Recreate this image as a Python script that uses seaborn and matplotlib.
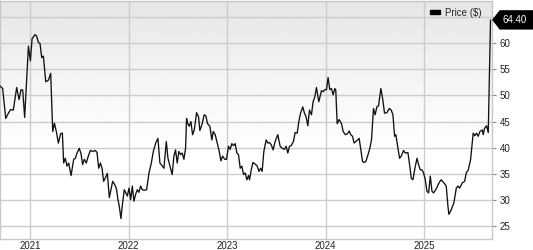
import numpy as np
import pandas as pd
import matplotlib
matplotlib.use("Agg")
import matplotlib.pyplot as plt
import matplotlib.dates as mdates
from matplotlib.patches import Patch, Polygon
import seaborn as sns

# ---- data (decimal year, price) ----
years = [
    2020.692, 2020.719, 2020.750, 2020.777, 2020.800, 2020.827, 2020.861, 2020.885, 2020.905, 2020.922,
    2020.942, 2020.980, 2021.000, 2021.017, 2021.047, 2021.064, 2021.081, 2021.098, 2021.115, 2021.132,
    2021.156, 2021.183, 2021.206, 2021.227, 2021.244, 2021.267, 2021.284, 2021.308, 2021.325, 2021.338,
    2021.355, 2021.372, 2021.389, 2021.413, 2021.440, 2021.457, 2021.474, 2021.497, 2021.514, 2021.531,
    2021.548, 2021.568, 2021.585, 2021.609, 2021.633, 2021.660, 2021.677, 2021.694, 2021.711, 2021.728,
    2021.744, 2021.761, 2021.782, 2021.802, 2021.819, 2021.836, 2021.856, 2021.873, 2021.890, 2021.903,
    2021.920, 2021.937, 2021.954, 2021.985, 2022.002, 2022.019, 2022.036, 2022.052, 2022.069, 2022.086,
    2022.103, 2022.120, 2022.137, 2022.161, 2022.181, 2022.205, 2022.229, 2022.249, 2022.273, 2022.296,
    2022.316, 2022.340, 2022.357, 2022.381, 2022.398, 2022.418, 2022.441, 2022.458, 2022.475, 2022.492,
    2022.509, 2022.526, 2022.543, 2022.560, 2022.577, 2022.587, 2022.597, 2022.614, 2022.631, 2022.648,
    2022.665, 2022.689, 2022.709, 2022.722, 2022.743, 2022.766, 2022.783, 2022.800, 2022.824, 2022.844,
    2022.858, 2022.878, 2022.902, 2022.919, 2022.936, 2022.953, 2022.976, 2022.993, 2023.013, 2023.030,
    2023.047, 2023.064, 2023.081, 2023.098, 2023.115, 2023.132, 2023.149, 2023.166, 2023.183, 2023.200,
    2023.217, 2023.227, 2023.244, 2023.261, 2023.284, 2023.305, 2023.322, 2023.339, 2023.355, 2023.372,
    2023.396, 2023.413, 2023.430, 2023.447, 2023.467, 2023.487, 2023.514, 2023.538, 2023.558, 2023.582,
    2023.599, 2023.616, 2023.633, 2023.650, 2023.673, 2023.690, 2023.711, 2023.728, 2023.745, 2023.768,
    2023.785, 2023.802, 2023.819, 2023.836, 2023.856, 2023.873, 2023.890, 2023.907, 2023.931, 2023.958,
    2023.975, 2023.992, 2024.009, 2024.025, 2024.042, 2024.059, 2024.076, 2024.093, 2024.103, 2024.117,
    2024.137, 2024.161, 2024.178, 2024.201, 2024.222, 2024.239, 2024.255, 2024.272, 2024.289, 2024.306,
    2024.323, 2024.340, 2024.357, 2024.374, 2024.391, 2024.408, 2024.425, 2024.448, 2024.465, 2024.485,
    2024.502, 2024.519, 2024.536, 2024.560, 2024.580, 2024.597, 2024.621, 2024.645, 2024.665, 2024.682,
    2024.699, 2024.712, 2024.733, 2024.750, 2024.766, 2024.790, 2024.807, 2024.834, 2024.851, 2024.868,
    2024.885, 2024.902, 2024.926, 2024.942, 2024.959, 2024.976, 2024.993, 2025.010, 2025.027, 2025.044,
    2025.061, 2025.078, 2025.095, 2025.125, 2025.149, 2025.172, 2025.200, 2025.223, 2025.240, 2025.250,
    2025.274, 2025.301, 2025.325, 2025.342, 2025.359, 2025.386, 2025.410, 2025.426, 2025.447, 2025.470,
    2025.497, 2025.514, 2025.531, 2025.548, 2025.565, 2025.589, 2025.599, 2025.612, 2025.633, 2025.650,
    2025.673,
]
prices = [
    51.8, 51.3, 45.6, 46.6, 47.3, 47.2, 51.5, 49.2, 51.1, 51.0,
    45.8, 59.4, 56.6, 60.8, 61.6, 61.3, 60.1, 59.9, 57.2, 57.5,
    52.6, 52.9, 54.2, 43.1, 44.7, 42.8, 40.9, 42.7, 42.8, 37.1,
    38.0, 36.5, 37.1, 34.7, 37.8, 38.0, 39.0, 39.9, 38.9, 36.8,
    37.8, 37.1, 38.2, 39.5, 39.3, 39.5, 39.1, 36.1, 37.1, 36.1,
    33.6, 34.2, 35.1, 30.5, 32.0, 33.6, 33.0, 32.3, 30.1, 28.9,
    26.5, 29.5, 32.0, 30.8, 32.3, 30.1, 32.7, 29.8, 31.1, 32.0,
    31.5, 32.7, 32.0, 31.9, 32.0, 35.2, 37.1, 39.3, 40.9, 41.8,
    37.1, 36.5, 36.1, 41.2, 38.0, 36.5, 34.9, 38.4, 39.6, 37.1,
    39.3, 38.7, 39.0, 37.8, 39.9, 45.6, 44.7, 44.1, 45.0, 42.5,
    43.4, 46.7, 45.9, 43.3, 44.4, 46.3, 46.1, 44.6, 44.1, 41.5,
    43.1, 42.5, 40.6, 39.3, 37.5, 38.4, 37.8, 37.8, 40.3, 39.7,
    40.8, 40.4, 40.8, 39.0, 38.7, 36.1, 36.5, 34.9, 35.2, 33.9,
    34.7, 33.9, 35.8, 37.2, 36.9, 36.5, 35.5, 36.1, 35.5, 39.3,
    41.5, 40.9, 41.0, 40.6, 39.6, 41.2, 42.5, 40.3, 39.9, 39.7,
    40.3, 39.0, 40.3, 40.4, 41.2, 42.9, 42.8, 45.0, 46.6, 47.8,
    46.6, 45.9, 44.2, 47.2, 46.3, 48.8, 49.7, 51.5, 48.8, 50.9,
    50.7, 51.1, 51.1, 53.4, 51.1, 51.3, 50.1, 51.3, 51.0, 44.6,
    45.4, 44.6, 43.1, 42.5, 42.7, 43.2, 42.5, 42.2, 40.9, 41.2,
    41.5, 41.8, 39.6, 37.4, 37.2, 37.4, 38.4, 39.9, 41.5, 47.5,
    46.3, 47.8, 48.0, 51.3, 49.1, 46.6, 46.7, 47.5, 47.2, 46.3,
    42.2, 42.5, 39.9, 38.0, 38.4, 39.5, 39.0, 39.1, 36.8, 34.2,
    33.9, 35.8, 38.0, 36.8, 35.8, 35.8, 35.2, 33.9, 31.7, 31.4,
    34.6, 31.7, 31.4, 32.3, 33.3, 33.9, 33.3, 32.7, 28.9, 27.3,
    28.2, 29.5, 32.3, 32.7, 32.3, 33.3, 33.6, 35.2, 35.8, 37.7,
    42.8, 42.3, 42.8, 42.2, 43.1, 43.4, 42.5, 43.7, 44.2, 42.9,
    64.4,
]
series_label = "Price ($)"
last_label = "64.40"
year_ticks = [2021, 2022, 2023, 2024, 2025]
y_ticks = [25, 30, 35, 40, 45, 50, 55, 60, 65]
y_tick_labels = ["25", "30", "35", "40", "45", "50", "55", "60", ""]


def to_date(y):
    yr = int(np.floor(y))
    start = pd.Timestamp(year=yr, month=1, day=1)
    end = pd.Timestamp(year=yr + 1, month=1, day=1)
    return start + (end - start) * (y - yr)


dates = [to_date(y) for y in years]
df = pd.DataFrame({"date": dates, "price": prices})

sns.set_style("white")
plt.rcParams["font.family"] = ["Liberation Sans", "DejaVu Sans"]
plt.rcParams["font.size"] = 7

W, H = 533, 250
fig = plt.figure(figsize=(W / 100, H / 100), dpi=100)
ax = fig.add_axes([0 / W, 11 / H, 492 / W, 238.5 / H])

# background gradient (grey at top fading smoothly to white)
n = 300
t = np.linspace(0, 1, n)  # 0 = bottom, 1 = top
u = np.clip((t - 0.35) / 0.65, 0, 1)
shade = 1 - 0.10 * u ** 1.2
grad = np.tile(shade[:, None], (1, 2))
ax.imshow(grad, extent=(0, 1, 0, 1), transform=ax.transAxes, aspect="auto",
          cmap="gray", vmin=0, vmax=1, origin="lower", zorder=0, interpolation="bilinear")

sns.lineplot(data=df, x="date", y="price", ax=ax, color="#111111", lw=0.95,
             legend=False, zorder=3)

ax.set_xlim(to_date(2020.692), to_date(2025.688))
ax.set_ylim(22.6, 68.1)

ax.set_xticks([pd.Timestamp(year=y, month=1, day=1) for y in year_ticks])
ax.set_xticklabels([str(y) for y in year_ticks])
ax.set_yticks(y_ticks)
ax.set_yticklabels(y_tick_labels)
ax.yaxis.tick_right()
ax.set_xlabel("")
ax.set_ylabel("")

ax.grid(True, color="#cccccc", lw=1.0)
ax.set_axisbelow(True)
for s in ax.spines.values():
    s.set_color("#c8c8c8")
    s.set_linewidth(1.0)

ax.tick_params(axis="y", which="both", right=True, left=False, length=3, width=0.8,
               color="#888888", pad=2.5, labelsize=7, labelcolor="#222222")
ax.tick_params(axis="x", length=0, pad=1.2, labelsize=7, labelcolor="#222222")

leg = ax.legend(handles=[Patch(facecolor="black", edgecolor="black", label=series_label)],
                loc="center right", bbox_to_anchor=(482 / 492, 1 - 12 / 238.5),
                frameon=False, borderpad=0, borderaxespad=0, handlelength=1.0,
                handleheight=0.38, handletextpad=0.6, fontsize=7)

# last-price tag
fig.canvas.draw()
yp = ax.transData.transform((mdates.date2num(dates[-1]), prices[-1]))[1]
hh = 9
tag = Polygon([(493 / W, yp / H), (500 / W, (yp + hh) / H), (533 / W, (yp + hh) / H),
               (533 / W, (yp - hh) / H), (500 / W, (yp - hh) / H)],
              closed=True, transform=fig.transFigure, facecolor="black",
              edgecolor="black", clip_on=False, zorder=10)
fig.add_artist(tag)
fig.text(515 / W, yp / H, last_label, color="white", ha="center", va="center",
         fontsize=7, zorder=11)

fig.savefig("out.png", dpi=100)
